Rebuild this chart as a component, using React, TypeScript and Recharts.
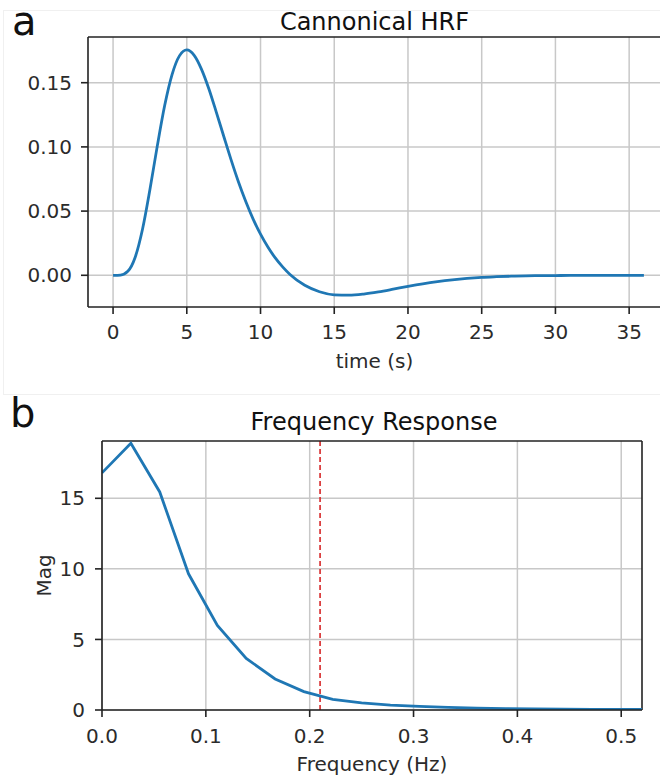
import React from 'react';
import { LineChart, Line, XAxis, YAxis, CartesianGrid, ReferenceLine } from 'recharts';

// HRF curve
const hrfTime = [
  0, 0.5, 1, 1.5, 2, 2.5, 3, 3.5, 4, 4.5, 5, 5.5, 6, 6.5, 7, 7.5, 8, 8.5, 9, 9.5, 10, 10.5, 11, 11.5,
  12, 13, 14, 15, 16, 17, 18, 19, 20, 21, 22, 23, 24, 25, 26, 27, 28, 29, 30, 31, 32, 33, 34, 35, 36,
];
const hrfValue = [
  0, 0.0002, 0.0031, 0.0141, 0.0361, 0.0668, 0.1008, 0.1322, 0.1563, 0.1709, 0.1755, 0.1713, 0.1604,
  0.1451, 0.1271, 0.1085, 0.0901, 0.0729, 0.0575, 0.0438, 0.032, 0.022, 0.0135, 0.0065,
  0.0006, -0.0078, -0.0128, -0.0152, -0.0155, -0.0146, -0.0129, -0.0108, -0.0086, -0.0066, -0.0049,
  -0.0035, -0.0024, -0.0016, -0.0011, -0.0007, -0.0004, -0.0003, -0.0002, -0.0001, -0.0001, 0, 0, 0, 0,
];
const hrfXTicks = [0, 5, 10, 15, 20, 25, 30, 35];
const hrfYTicks = [0, 0.05, 0.1, 0.15];
const hrfXDomain = [-1.7, 37.16];
const hrfYDomain = [-0.0247, 0.1856];

// frequency response, panel b (bins every 1/36 Hz)
const freqHz = [
  0, 0.0278, 0.0556, 0.0833, 0.1111, 0.1389, 0.1667, 0.1944, 0.2222, 0.25, 0.2778, 0.3056, 0.3333,
  0.3611, 0.3889, 0.4167, 0.4444, 0.4722, 0.5, 0.5278,
];
const freqMag = [
  16.8, 18.9, 15.45, 9.65, 6.0, 3.65, 2.2, 1.3, 0.75, 0.5, 0.35, 0.25, 0.18, 0.13, 0.1, 0.08, 0.06,
  0.05, 0.04, 0.04,
];
const freqXTicks = [0, 0.1, 0.2, 0.3, 0.4, 0.5];
const freqYTicks = [0, 5, 10, 15];
const freqXDomain = [0, 0.52];
const freqYDomain = [0, 19.06];
const cutoffHz = 0.21;

const hrfData = hrfTime.map((t, i) => ({ t, v: hrfValue[i] }));
const freqData = freqHz.map((f, i) => ({ f, m: freqMag[i] }));

const FONT = '"DejaVu Sans", sans-serif';
const INK = '#222';
const tickStyle = { fontSize: 20, fill: '#2b2b2b', fontFamily: FONT };

export default function App() {
  return (
    <div
      style={{
        position: 'absolute',
        left: 0,
        top: 0,
        width: 660,
        height: 776,
        overflow: 'hidden',
        background: '#fff',
        fontFamily: FONT,
      }}
    >
      {/* faint edge of the pasted panel a */}
      <div
        style={{
          position: 'absolute',
          left: 3,
          top: 10,
          width: 660,
          height: 383,
          borderTop: '1px solid #f0f0f0',
          borderLeft: '1px solid #f0f0f0',
          borderBottom: '1px solid #f0f0f0',
        }}
      />

      {/* panel a: the right spine sits just past the picture edge, as in the original crop */}
      <div style={{ position: 'absolute', left: 0, top: 0 }}>
        <LineChart width={661} height={390} data={hrfData} margin={{ top: 37, right: 0, left: 0, bottom: 0 }}>
          <CartesianGrid stroke="#c8c8c8" strokeWidth={1.5} verticalValues={hrfXTicks} horizontalValues={hrfYTicks} />
          <XAxis
            dataKey="t"
            type="number"
            domain={hrfXDomain}
            allowDataOverflow
            ticks={hrfXTicks}
            interval={0}
            height={83}
            tickSize={7}
            tickMargin={11}
            stroke={INK}
            strokeWidth={1.6}
            tick={tickStyle}
            label={{ value: 'time (s)', position: 'insideBottom', offset: 22, style: tickStyle }}
          />
          <YAxis
            type="number"
            domain={hrfYDomain}
            ticks={hrfYTicks}
            interval={0}
            width={88}
            tickSize={7}
            tickMargin={9}
            stroke={INK}
            strokeWidth={1.6}
            tick={tickStyle}
            tickFormatter={(v: number) => v.toFixed(2)}
          />
          <ReferenceLine y={hrfYDomain[1]} stroke={INK} strokeWidth={1.6} ifOverflow="visible" />
          <Line
            type="monotone"
            dataKey="v"
            stroke="#1f77b4"
            strokeWidth={2.8}
            dot={false}
            isAnimationActive={false}
          />
        </LineChart>
      </div>

      <div style={{ position: 'absolute', left: 0, top: 390 }}>
        <LineChart width={660} height={386} data={freqData} margin={{ top: 51, right: 18, left: 0, bottom: 0 }}>
          <CartesianGrid stroke="#c8c8c8" strokeWidth={1.5} verticalValues={freqXTicks} horizontalValues={freqYTicks} />
          <XAxis
            dataKey="f"
            type="number"
            domain={freqXDomain}
            allowDataOverflow
            ticks={freqXTicks}
            interval={0}
            height={66}
            tickSize={7}
            tickMargin={12}
            stroke={INK}
            strokeWidth={1.6}
            tick={tickStyle}
            tickFormatter={(v: number) => v.toFixed(1)}
            label={{ value: 'Frequency (Hz)', position: 'insideBottom', offset: 5, style: tickStyle }}
          />
          <YAxis
            type="number"
            domain={freqYDomain}
            allowDataOverflow
            ticks={freqYTicks}
            interval={0}
            width={102}
            tickSize={7}
            tickMargin={10}
            stroke={INK}
            strokeWidth={1.6}
            tick={tickStyle}
            label={{
              value: 'Mag',
              angle: -90,
              position: 'insideLeft',
              offset: 44,
              style: { ...tickStyle, textAnchor: 'middle' },
            }}
          />
          <ReferenceLine x={cutoffHz} stroke="#d62728" strokeWidth={1.6} strokeDasharray="5 3" />
          <ReferenceLine y={freqYDomain[1]} stroke={INK} strokeWidth={1.6} ifOverflow="visible" />
          <ReferenceLine x={freqXDomain[1]} stroke={INK} strokeWidth={1.6} ifOverflow="visible" />
          <Line
            type="linear"
            dataKey="m"
            stroke="#1f77b4"
            strokeWidth={2.8}
            dot={false}
            isAnimationActive={false}
          />
        </LineChart>
      </div>

      <svg width={660} height={776} style={{ position: 'absolute', left: 0, top: 0, pointerEvents: 'none' }}>
        <text x={12} y={35} fontSize={40} fontFamily={FONT} fill="#111">a</text>
        <text x={374.5} y={30} fontSize={24} fontFamily={FONT} fill="#111" textAnchor="middle">Cannonical HRF</text>
        <text x={10} y={427} fontSize={40} fontFamily={FONT} fill="#111">b</text>
        <text x={374} y={430} fontSize={24} fontFamily={FONT} fill="#111" textAnchor="middle">Frequency Response</text>
      </svg>
    </div>
  );
}
